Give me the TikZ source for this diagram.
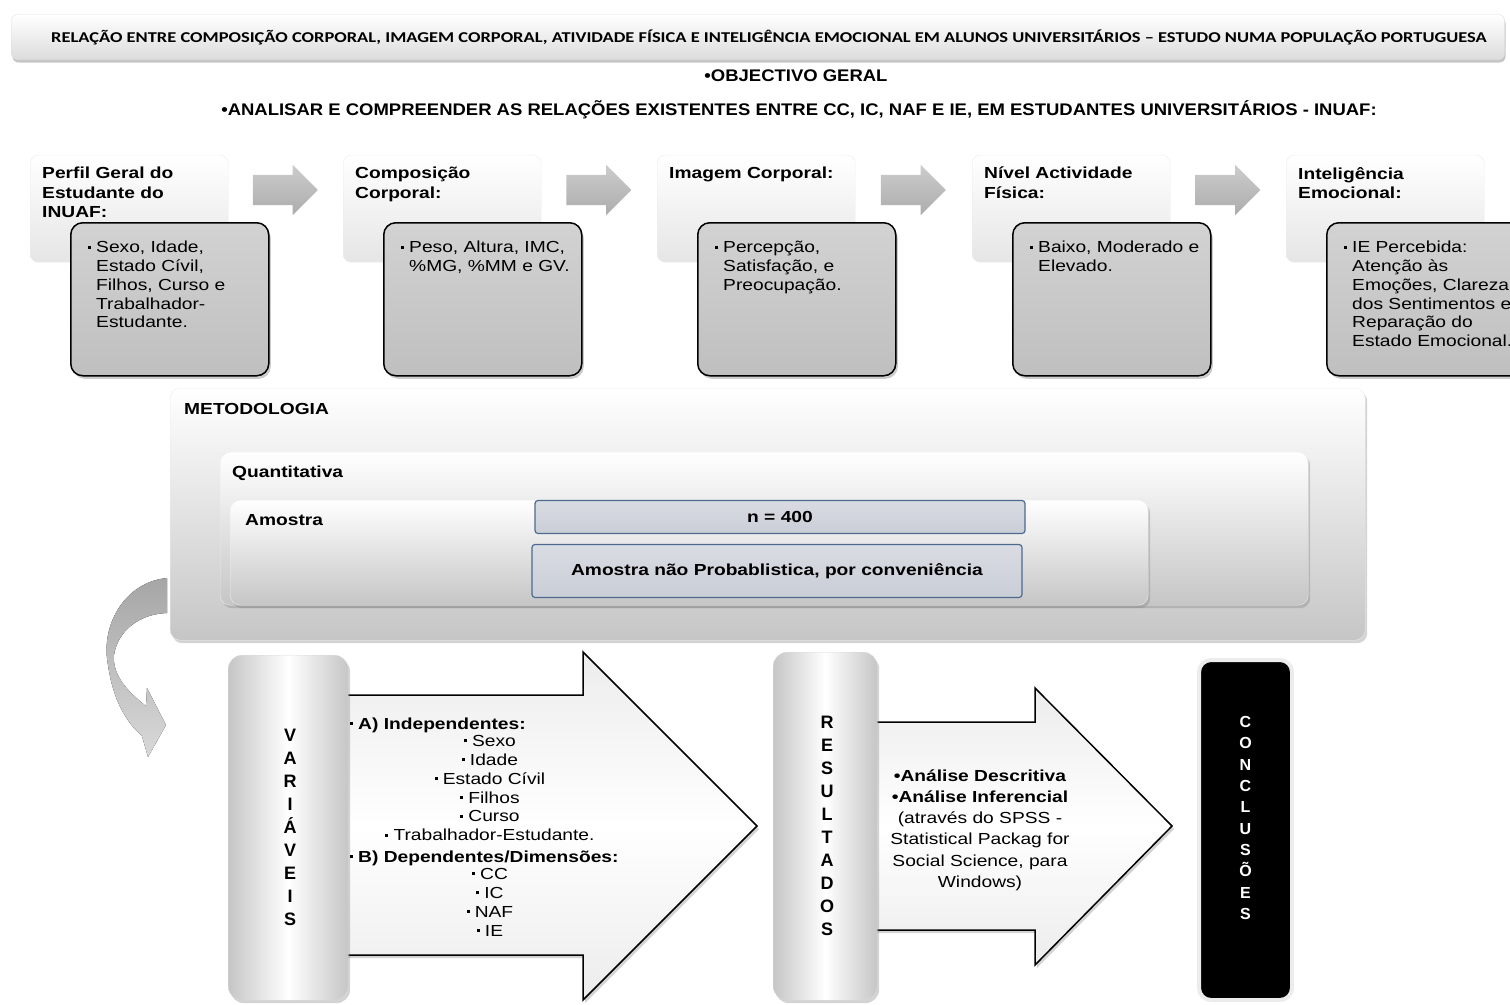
\documentclass[tikz,border=0pt]{standalone}
\usepackage{fontspec}
\setmainfont[FakeStretch=1.2]{Liberation Sans}
\newfontfamily\titlefont[FakeStretch=1.23]{Carlito}
\newfontfamily\headfont[FakeStretch=1.1]{Liberation Sans}
\newfontfamily\letrafont{Liberation Sans}
\usetikzlibrary{positioning,calc,shapes.arrows,shadows}
\tikzset{
  font={\fontsize{16}{19}\selectfont}}
\newcommand{\bul}{\makebox[8pt][l]{\raisebox{4pt}{\rule{3pt}{3pt}}}}
\newcommand{\ind}{\hspace*{8pt}}
\definecolor{cinzaclaro}{HTML}{DCDCDC}
\definecolor{azulcaixa}{HTML}{C9CDD6}
\definecolor{azulborda}{HTML}{4D6A91}

\begin{document}
\begin{tikzpicture}[x=1pt,y=-1pt]
\tikzstyle{every node}+=[inner sep=0pt]
\tikzstyle{titlebar}=[rounded corners=6pt, top color=white, bottom color=cinzaclaro,
  draw=gray!25, minimum width=1493, minimum height=45,
  drop shadow={shadow xshift=1pt, shadow yshift=-3pt, opacity=0.45}]
\tikzstyle{outerbox}=[rounded corners=8pt, top color=white, bottom color=gray!20,
  draw=gray!15, minimum width=198, minimum height=107]
\tikzstyle{innerbox}=[rounded corners=12pt, top color=gray!35, bottom color=gray!50,
  draw=black, line width=1.5pt, minimum width=198, minimum height=153,
  drop shadow={shadow xshift=2pt, shadow yshift=-3pt, opacity=0.4}]
\tikzstyle{boxtitle}=[align=left, font={\fontsize{16}{19.5}\selectfont\bfseries}]
\tikzstyle{boxtxt}=[align=left, font={\fontsize{16}{18.8}\selectfont}]
\tikzstyle{grayarrow}=[single arrow, single arrow head extend=10pt, inner ysep=15pt,
  inner xsep=0pt, minimum height=65, top color=gray!40, bottom color=gray!65]
\tikzstyle{layerbox}=[rounded corners=10pt, top color=white, bottom color=gray!45,
  draw=gray!15, drop shadow={shadow xshift=2pt, shadow yshift=-3pt, opacity=0.35}]
\tikzstyle{bluebox}=[rounded corners=3pt, top color=azulcaixa!70, bottom color=azulcaixa,
  draw=azulborda, line width=1.2pt, font={\fontsize{16}{19}\selectfont\bfseries}]
\tikzstyle{lbl}=[anchor=base west, font={\fontsize{16}{19}\selectfont\bfseries}]
\tikzstyle{vbox}=[rounded corners=14pt, left color=gray!45, right color=gray!45,
  middle color=white, draw=gray!30,
  drop shadow={shadow xshift=2pt, shadow yshift=-3pt, opacity=0.35}]
\tikzstyle{bigarrow}=[draw=black, line width=1.5pt, top color=gray!15,
  bottom color=gray!15, middle color=white,
  drop shadow={shadow xshift=2pt, shadow yshift=-3pt, opacity=0.35}]
\tikzstyle{vletras}=[align=center, font={\letrafont\fontsize{18}{23}\selectfont\bfseries}]
\useasboundingbox (0,0) rectangle (1510,1004);

% titulo e objectivo
\node[titlebar] (titulo) at (758,37) {};
\node[font={\titlefont\fontsize{15}{18}\selectfont\bfseries}] (titulot) at (769,37)
  {RELAÇÃO ENTRE COMPOSIÇÃO CORPORAL, IMAGEM CORPORAL, ATIVIDADE FÍSICA E INTELIGÊNCIA EMOCIONAL EM ALUNOS UNIVERSITÁRIOS – ESTUDO NUMA POPULAÇÃO PORTUGUESA};
\node[font={\headfont\fontsize{16.8}{19}\selectfont\bfseries}] (objectivo) at (796,76) {\textbullet OBJECTIVO GERAL};
\node[font={\headfont\fontsize{16.8}{19}\selectfont\bfseries}] (analisar) at (799,110)
  {\textbullet ANALISAR E COMPREENDER AS RELAÇÕES EXISTENTES ENTRE CC, IC, NAF E IE, EM ESTUDANTES UNIVERSITÁRIOS - INUAF:};

% caixas de cima
\node[outerbox, anchor=north west] (perfil) at (30,155) {};
\node[outerbox, anchor=north west] (compos) at (343,155) {};
\node[outerbox, anchor=north west] (imagem) at (657,155) {};
\node[outerbox, anchor=north west] (nivel) at (972,155) {};
\node[outerbox, anchor=north west] (intel) at (1286,155) {};
\node[boxtitle, anchor=north west] (perfilt) at ($(perfil.north west)+(12,12)$) {Perfil Geral do\\Estudante do\\INUAF:};
\node[boxtitle, anchor=north west] (compost) at ($(compos.north west)+(12,12)$) {Composição\\Corporal:};
\node[boxtitle, anchor=north west] (imagemt) at ($(imagem.north west)+(12,12)$) {Imagem Corporal:};
\node[boxtitle, anchor=north west] (nivelt) at ($(nivel.north west)+(12,12)$) {Nível Actividade\\Física:};
\node[boxtitle, anchor=north west] (intelt) at ($(intel.north west)+(12,12)$) {Inteligência\\Emocional:};

\node[innerbox, anchor=north west] (perfilb) at (70,222) {};
\node[innerbox, anchor=north west] (composb) at (383,222) {};
\node[innerbox, anchor=north west] (imagemb) at (697,222) {};
\node[innerbox, anchor=north west] (nivelb) at (1012,222) {};
\node[innerbox, anchor=north west] (intelb) at (1326,222) {};
\node[boxtxt, anchor=north west] (perfilx) at ($(perfilb.north west)+(18,19)$)
  {\bul Sexo, Idade,\\\ind Estado Cívil,\\\ind Filhos, Curso e\\\ind Trabalhador-\\\ind Estudante.};
\node[boxtxt, anchor=north west] (composx) at ($(composb.north west)+(18,19)$)
  {\bul Peso, Altura, IMC,\\\ind \%MG, \%MM e GV.};
\node[boxtxt, anchor=north west] (imagemx) at ($(imagemb.north west)+(18,19)$)
  {\bul Percepção,\\\ind Satisfação, e\\\ind Preocupação.};
\node[boxtxt, anchor=north west] (nivelx) at ($(nivelb.north west)+(18,19)$)
  {\bul Baixo, Moderado e\\\ind Elevado.};
\node[boxtxt, anchor=north west] (intelx) at ($(intelb.north west)+(18,19)$)
  {\bul IE Percebida:\\\ind Atenção às\\\ind Emoções, Clareza\\\ind dos Sentimentos e\\\ind Reparação do\\\ind Estado Emocional.};

\node[grayarrow] (seta1) at ($(perfil.north east)!0.5!(compos.north west)+(-8,35)$) {};
\node[grayarrow] (seta2) at ($(compos.north east)!0.5!(imagem.north west)+(-8,35)$) {};
\node[grayarrow] (seta3) at ($(imagem.north east)!0.5!(nivel.north west)+(-8,35)$) {};
\node[grayarrow] (seta4) at ($(nivel.north east)!0.5!(intel.north west)+(-8,35)$) {};

% metodologia
\node[layerbox, anchor=north west, minimum width=1195, minimum height=252] (metod) at (170,388) {};
\node[layerbox, anchor=north west, minimum width=1088, minimum height=153] (quant) at (220,452) {};
\node[layerbox, anchor=north west, minimum width=918, minimum height=105] (amostra) at (230,500) {};
\node[lbl] (metodt) at (184,414) {METODOLOGIA};
\node[lbl] (quantt) at (232,477) {Quantitativa};
\node[lbl] (amostrat) at (245,525) {Amostra};
\node[bluebox, minimum width=490, minimum height=33] (tamanho) at (780,517) {n = 400};
\node[bluebox, minimum width=490, minimum height=53] (tipo) at (777,571) {Amostra não Probablistica, por conveniência};

% seta curva
\fill[top color=gray!70, bottom color=gray!30] (167,578) .. controls (125,582) and (100,625) .. (108,665)
  .. controls (113,700) and (126,722) .. (142,736) -- (148,757) -- (166,725) -- (147,688) -- (146,706)
  .. controls (128,692) and (112,675) .. (114,655) .. controls (118,630) and (140,614) .. (167,613) -- cycle;

% setas grandes
\draw[bigarrow] (340,695) -- (583,695) -- (583,652) -- (757,826) -- (583,1000) -- (583,955) -- (340,955) -- cycle;
\draw[bigarrow] (870,722) -- (1035,722) -- (1035,688) -- (1172,826) -- (1035,965) -- (1035,930) -- (870,930) -- cycle;

\node[vbox, anchor=north west, minimum width=120, minimum height=345] (varia) at (228,655) {};
\node[vletras] (variat) at ($(varia.center)+(2,0)$) {V\\A\\R\\I\\Á\\V\\E\\I\\S};
\node[vbox, anchor=north west, minimum width=104, minimum height=348] (resul) at (773,652) {};
\node[vletras] (result) at ($(resul.center)+(2,0)$) {R\\E\\S\\U\\L\\T\\A\\D\\O\\S};
\node[rounded corners=12pt, fill=black, draw=gray!15, line width=4pt, anchor=north west,
  minimum width=93, minimum height=340] (concl) at (1197,658) {};
\node[vletras, text=white, font={\letrafont\fontsize{16}{21.3}\selectfont\bfseries}] (conclt) at ($(concl.center)+(0,-12)$)
  {C\\O\\N\\C\\L\\U\\S\\Õ\\E\\S};

\node[lbl] (indep) at (350,729) {\bul A) Independentes:};
\node[align=center, font={\fontsize{16}{18.9}\selectfont}, anchor=north] (indepl) at (490,735)
  {\bul Sexo\\\bul Idade\\\bul Estado Cívil\\\bul Filhos\\\bul Curso\\\bul Trabalhador-Estudante.};
\node[lbl] (dep) at (350,862) {\bul B) Dependentes/Dimensões:};
\node[align=center, font={\fontsize{16}{18.9}\selectfont}, anchor=north] (depl) at (490,868)
  {\bul CC\\\bul IC\\\bul NAF\\\bul IE};
\node[align=center, font={\fontsize{16}{21.2}\selectfont}] (analise) at (980,830)
  {\textbf{\textbullet Análise Descritiva}\\\textbf{\textbullet Análise Inferencial}\\(através do SPSS -\\Statistical Packag for\\Social Science, para\\Windows)};
\end{tikzpicture}
\end{document}
